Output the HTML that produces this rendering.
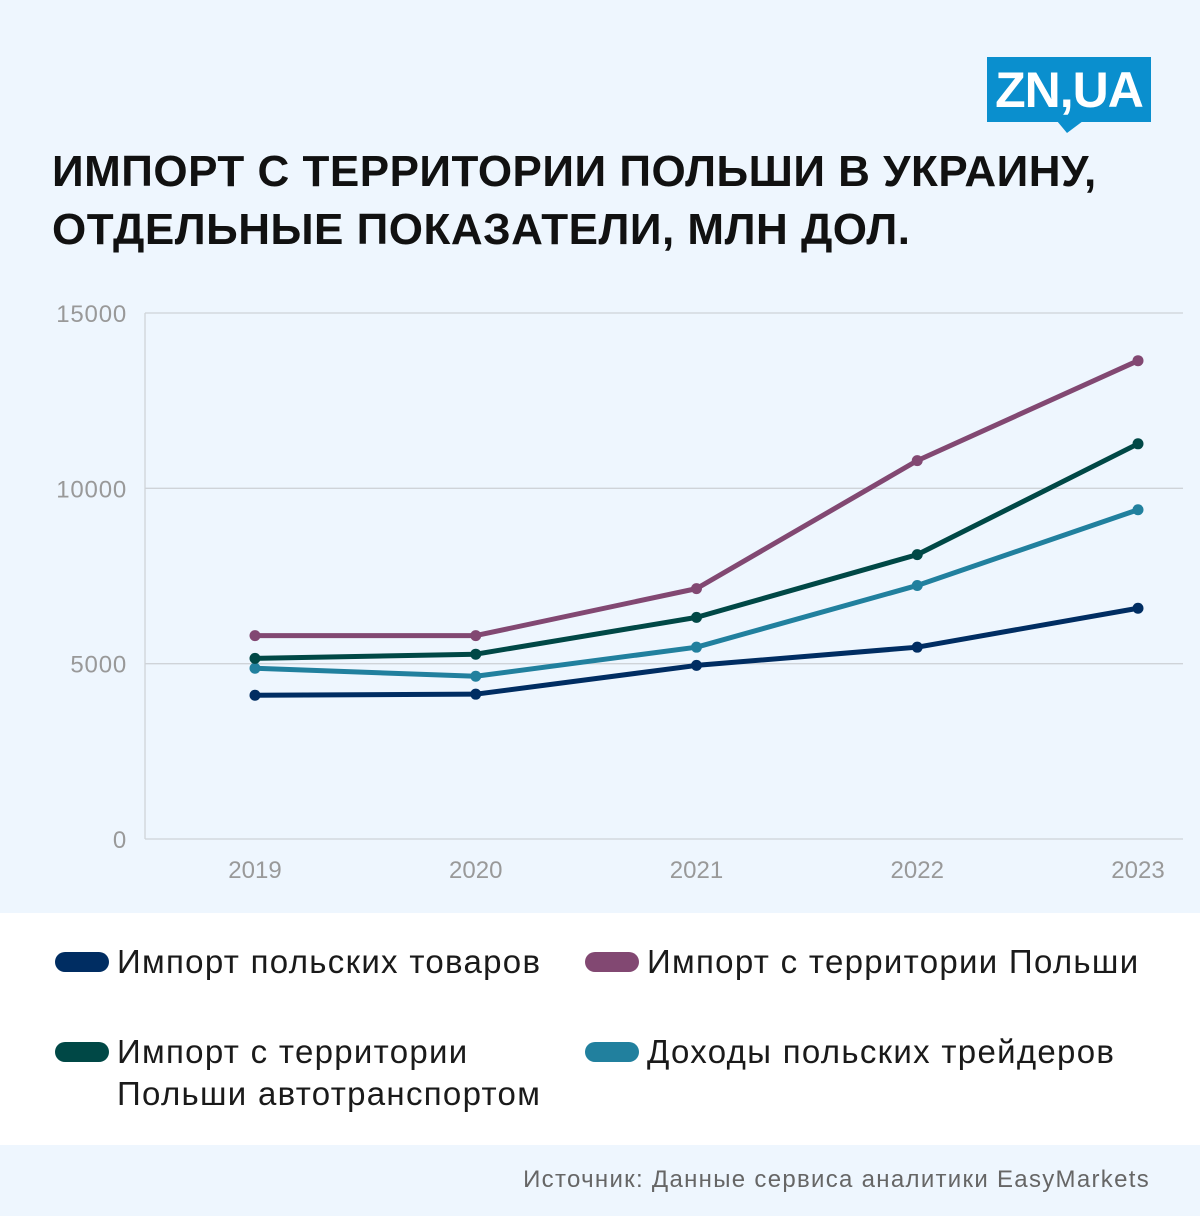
<!DOCTYPE html>
<html><head><meta charset="utf-8"><style>
body{margin:0;width:1200px;height:1216px;background:#eef6fe;font-family:"Liberation Sans",sans-serif;position:relative;overflow:hidden}
.t{position:absolute;left:52px;top:143px;font-size:44px;font-weight:bold;color:#111;line-height:58px;letter-spacing:0.5px}
.logo{position:absolute;left:987px;top:57px;width:164px;height:65px;background:#0a8fce;color:#fff;font-weight:bold;font-size:50px;line-height:66px;text-align:center;letter-spacing:-1px}
.logo:after{content:"";position:absolute;left:70px;top:64px;border-left:10px solid transparent;border-right:16px solid transparent;border-top:12px solid #0a8fce}
.leg{position:absolute;left:0;top:913px;width:1200px;height:232px;background:#fff}
.li{position:absolute;font-size:33px;color:#1a1a1a;line-height:42px;letter-spacing:1.3px}
.sw{position:absolute;width:54px;height:20px;border-radius:10px}
.src{position:absolute;right:50px;top:1166px;font-size:24px;color:#666;letter-spacing:1.3px}
</style></head><body>
<div class="t">ИМПОРТ С ТЕРРИТОРИИ ПОЛЬШИ В УКРАИНУ,<br>ОТДЕЛЬНЫЕ ПОКАЗАТЕЛИ, МЛН ДОЛ.</div>
<div class="logo">ZN,UA</div>
<svg id="ch" width="1200" height="913" style="position:absolute;left:0;top:0"></svg>
<div class="leg">
<div class="sw" style="left:55px;top:39px;background:#002d62"></div>
<div class="li" style="left:117px;top:28px">Импорт польских товаров</div>
<div class="sw" style="left:585px;top:39px;background:#824872"></div>
<div class="li" style="left:647px;top:28px">Импорт с территории Польши</div>
<div class="sw" style="left:55px;top:129px;background:#004846"></div>
<div class="li" style="left:117px;top:118px">Импорт с территории<br>Польши автотранспортом</div>
<div class="sw" style="left:585px;top:129px;background:#21809e"></div>
<div class="li" style="left:647px;top:118px">Доходы польских трейдеров</div>
</div>
<div class="src">Источник: Данные сервиса аналитики EasyMarkets</div>
<script>
const years=["2019","2020","2021","2022","2023"];
const yTicks=[0,5000,10000,15000];
const fromPoland=[5800,5800,7140,10790,13640];
const byRoad=[5150,5270,6320,8110,11270];
const traders=[4870,4640,5470,7230,9390];
const goods=[4100,4130,4950,5470,6580];
const NS="http://www.w3.org/2000/svg";
const svg=document.getElementById('ch');
const x=i=>255+i*220.75;
const y=v=>839-v*(526/15000);
function mk(t,a){const e=document.createElementNS(NS,t);for(const k in a)e.setAttribute(k,a[k]);svg.appendChild(e);return e;}
yTicks.forEach(v=>{
 const l=mk('line',{x1:145,x2:1183,y1:y(v),y2:y(v),stroke:'#cfd3d8','stroke-width':1.3});
 
 
 const t=mk('text',{x:127,y:y(v)+9,'text-anchor':'end','font-size':24,fill:'#999','font-family':'Liberation Sans, sans-serif','letter-spacing':0.8});
 t.textContent=v;
 
 
});
const ax=mk('line',{x1:145,x2:145,y1:313,y2:839,stroke:'#cfd3d8','stroke-width':1.3});


years.forEach((yr,i)=>{
 const t=mk('text',{x:x(i),y:878,'text-anchor':'middle','font-size':24,fill:'#999','font-family':'Liberation Sans, sans-serif'});
 t.textContent=yr;
 
 
});
[[goods,'#002d62','goods'],[traders,'#21809e','traders-income'],[byRoad,'#004846','by-road'],[fromPoland,'#824872','from-poland']].forEach(([d,c,n])=>{
 const p=mk('polyline',{points:d.map((v,i)=>x(i)+','+y(v)).join(' '),fill:'none',stroke:c,'stroke-width':5,'stroke-linejoin':'round','stroke-linecap':'round'});
 
 
 d.forEach((v,i)=>{
  const ci=mk('circle',{cx:x(i),cy:y(v),r:5.5,fill:c});
  
  
 });
});
</script>
</body></html>
